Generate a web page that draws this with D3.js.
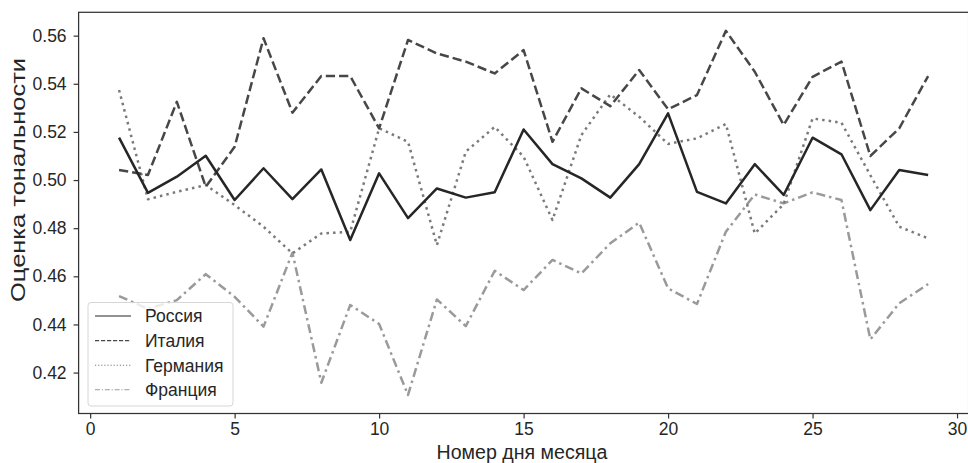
<!DOCTYPE html>
<html>
<head>
<meta charset="utf-8">
<script src="https://cdn.jsdelivr.net/npm/d3@7"></script>
<style>
  body { margin: 0; background: #fff; }
  svg text { font-family: "Liberation Sans", Arial, sans-serif; fill: #262626; }
</style>
</head>
<body>
<div id="chart"></div>
<script>
// day numbers on the x axis
const days = [1, 2, 3, 4, 5, 6, 7, 8, 9, 10, 11, 12, 13, 14, 15, 16, 17, 18, 19, 20, 21, 22, 23, 24, 25, 26, 27, 28, 29];

// sentiment per country
const russia = [0.5176, 0.4947, 0.5014, 0.5101, 0.4917, 0.5049, 0.4921, 0.5044, 0.4751, 0.5028,
    0.4842, 0.4965, 0.4927, 0.4949, 0.5210, 0.5066, 0.5007, 0.4927, 0.5066, 0.5277,
    0.4951, 0.4903, 0.5066, 0.4938, 0.5176, 0.5107, 0.4875, 0.5042, 0.5021];
const italy = [0.5042, 0.5021, 0.5325, 0.4972, 0.5138, 0.5589, 0.5280, 0.5432, 0.5432, 0.5215,
    0.5582, 0.5526, 0.5492, 0.5443, 0.5540, 0.5159, 0.5381, 0.5307, 0.5457, 0.5294,
    0.5353, 0.5620, 0.5450, 0.5229, 0.5429, 0.5492, 0.5100, 0.5215, 0.5432];
const germany = [0.5374, 0.4920, 0.4951, 0.4979, 0.4896, 0.4806, 0.4695, 0.4778, 0.4785, 0.5215,
    0.5159, 0.4730, 0.5118, 0.5221, 0.5097, 0.4834, 0.5187, 0.5356, 0.5263, 0.5150,
    0.5173, 0.5233, 0.4778, 0.4900, 0.5256, 0.5238, 0.5020, 0.4806, 0.4758];
const france = [0.4518, 0.4465, 0.4501, 0.4609, 0.4515, 0.4391, 0.4698, 0.4158, 0.4481, 0.4402,
    0.4107, 0.4504, 0.4393, 0.4623, 0.4543, 0.4668, 0.4612, 0.4737, 0.4823, 0.4550,
    0.4485, 0.4785, 0.4940, 0.4903, 0.4949, 0.4917, 0.4338, 0.4488, 0.4568];

const seriesNames = ["Россия", "Италия", "Германия", "Франция"];
const xTicks = [0, 5, 10, 15, 20, 25, 30];
const yTicks = [0.42, 0.44, 0.46, 0.48, 0.50, 0.52, 0.54, 0.56];

const width = 968, height = 463;
const margin = { left: 78.6, right: 968.6, top: 12.3, bottom: 413.5 };

const svg = d3.select("#chart").append("svg")
    .attr("width", width)
    .attr("height", height);

const x = d3.scaleLinear().domain([-0.4, 30.4]).range([margin.left, margin.right]);
const y = d3.scaleLinear().domain([0.4030, 0.5697]).range([margin.bottom, margin.top]);

// line styles per country
const styles = [
    { color: "#262626", dash: null, legendDash: null },
    { color: "#474747", dash: "9.25,4", legendDash: "4.2,1.8" },
    { color: "#7a7a7a", dash: "2.5,4.1", legendDash: "1.2,1.9" },
    { color: "#9a9a9a", dash: "9,4,2.5,4", legendDash: "5,1.8,1.2,1.8" }
];
const allSeries = [russia, italy, germany, france];

const plot = svg.append("g");

const line = d3.line()
    .x((d, i) => x(days[i]))
    .y(d => y(d));

// draw in reverse so Russia ends up on top
for (let k = allSeries.length - 1; k >= 0; k--) {
    plot.append("path")
        .datum(allSeries[k])
        .attr("fill", "none")
        .attr("stroke", styles[k].color)
        .attr("stroke-width", 2.5)
        .attr("stroke-dasharray", styles[k].dash)
        .attr("stroke-linejoin", "round")
        .attr("d", line);
}

// axes
const xAxis = svg.append("g")
    .attr("transform", `translate(0,${margin.bottom})`)
    .call(d3.axisBottom(x).tickValues(xTicks).tickSize(5).tickPadding(4).tickFormat(d3.format("d")));
const yAxis = svg.append("g")
    .attr("transform", `translate(${margin.left},0)`)
    .call(d3.axisLeft(y).tickValues(yTicks).tickSize(5).tickPadding(7).tickFormat(d3.format(".2f")));

[xAxis, yAxis].forEach(function (a) {
    a.select(".domain").remove();
    a.selectAll(".tick line").attr("stroke", "#333").attr("stroke-width", 1.2);
    a.selectAll(".tick text").attr("font-size", 17.5).attr("fill", "#262626")
        .style("font-family", "'Liberation Sans', Arial, sans-serif");
});

// frame
svg.append("rect")
    .attr("x", margin.left)
    .attr("y", margin.top)
    .attr("width", margin.right - margin.left)
    .attr("height", margin.bottom - margin.top)
    .attr("fill", "none")
    .attr("stroke", "#333")
    .attr("stroke-width", 1.25);

// axis labels
svg.append("text")
    .attr("x", 522)
    .attr("y", 459)
    .attr("text-anchor", "middle")
    .attr("font-size", 19.6)
    .text("Номер дня месяца");

// the y label in the picture is drawn stretched along its length
svg.append("text")
    .attr("transform", "translate(25,180) rotate(-90)")
    .attr("text-anchor", "middle")
    .attr("font-size", 19.6)
    .attr("textLength", 244)
    .attr("lengthAdjust", "spacingAndGlyphs")
    .text("Оценка тональности");

// legend
const legend = svg.append("g");
legend.append("rect")
    .attr("x", 88)
    .attr("y", 302.5)
    .attr("width", 145)
    .attr("height", 103.5)
    .attr("rx", 3)
    .attr("fill", "#fff")
    .attr("fill-opacity", 0.8)
    .attr("stroke", "#d6d6d6")
    .attr("stroke-width", 1);

seriesNames.forEach(function (name, i) {
    const ly = 316 + i * 24.6;
    legend.append("line")
        .attr("x1", 95)
        .attr("x2", 131)
        .attr("y1", ly)
        .attr("y2", ly)
        .attr("stroke", styles[i].color)
        .attr("stroke-width", 1.1)
        .attr("stroke-dasharray", styles[i].legendDash);
    legend.append("text")
        .attr("x", 145)
        .attr("y", ly + 6.3)
        .attr("font-size", 17.5)
        .text(name);
});
</script>
</body>
</html>
